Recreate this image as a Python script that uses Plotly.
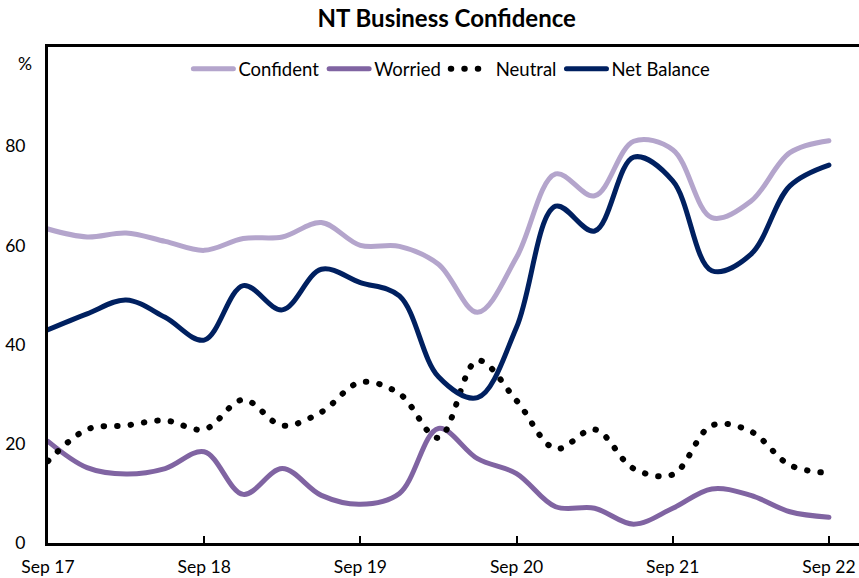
import plotly.graph_objects as go

quarters = ["Sep 17", "Dec 17", "Mar 18", "Jun 18", "Sep 18", "Dec 18", "Mar 19", "Jun 19",
            "Sep 19", "Dec 19", "Mar 20", "Jun 20", "Sep 20", "Dec 20", "Mar 21", "Jun 21",
            "Sep 21", "Dec 21", "Mar 22", "Jun 22", "Sep 22"]
confident = [63.3, 61.7, 62.5, 60.8, 59.0, 61.4, 61.7, 64.6, 60.0, 59.8, 56.2, 46.5, 57.6,
             74.4, 70.0, 81.0, 79.3, 65.6, 68.9, 78.7, 81.1]
worried = [20.5, 15.2, 13.9, 15.0, 18.4, 9.8, 15.0, 9.6, 7.8, 10.0, 23.1, 17.0, 14.0,
           7.3, 7.0, 3.8, 7.0, 10.9, 9.6, 6.3, 5.2]
neutral = [16.5, 22.9, 23.7, 24.7, 22.9, 28.9, 23.7, 26.4, 32.4, 30.1, 21.2, 36.8, 28.7,
           19.0, 22.9, 15.0, 13.8, 23.7, 22.5, 15.7, 14.1]
net_balance = [43.0, 46.2, 49.0, 45.5, 40.9, 51.9, 47.0, 55.2, 52.5, 49.8, 33.5, 29.3, 43.5,
               67.9, 62.9, 77.8, 73.0, 54.9, 58.2, 72.0, 76.2]
tick_labels = ["Sep 17", "Sep 18", "Sep 19", "Sep 20", "Sep 21", "Sep 22"]

x = list(range(len(quarters)))
tick_pos = [quarters.index(t) for t in tick_labels]

FONT = "Lato, 'Open Sans', sans-serif"
FS = 17.5

fig = go.Figure()
fig.add_trace(go.Scatter(x=x, y=confident, name="Confident", mode="lines",
                         line=dict(color="#B4A5CC", width=5, shape="spline", smoothing=1.0)))
fig.add_trace(go.Scatter(x=x, y=worried, name="Worried", mode="lines",
                         line=dict(color="#8064A2", width=5, shape="spline", smoothing=1.0)))
fig.add_trace(go.Scatter(x=x, y=neutral, name="Neutral", mode="lines",
                         line=dict(color="#000000", width=6, shape="spline", smoothing=1.0,
                                   dash="0.5px,13px")))
fig.add_trace(go.Scatter(x=x, y=net_balance, name="Net Balance", mode="lines",
                         line=dict(color="#002060", width=5, shape="spline", smoothing=1.0)))

fig.update_layout(
    width=859, height=578,
    margin=dict(l=48, r=0, t=47, b=35),
    paper_bgcolor="white", plot_bgcolor="white",
    font=dict(family=FONT, size=FS, color="#000000"),
    title=dict(text="<b>NT Business Confidence</b>", x=0.52, xanchor="center",
               y=0.968, yanchor="middle", font=dict(family=FONT, size=24, color="#000000")),
    showlegend=True,
    legend=dict(orientation="h", x=0.498, xanchor="center", y=0.955, yanchor="middle",
                bgcolor="rgba(0,0,0,0)", font=dict(family=FONT, size=18.5),
                itemwidth=40, tracegroupgap=0),
    annotations=[dict(text="%", x=0, xref="paper", xanchor="right", xshift=-14,
                      y=(543 - 63) / 4.96, yref="y", yanchor="middle", showarrow=False,
                      font=dict(family=FONT, size=FS))],
)
fig.update_xaxes(range=[0, 20.77], tickvals=tick_pos, ticktext=tick_labels,
                 showgrid=False, zeroline=False, showline=True, linecolor="#000000",
                 linewidth=3, mirror=True, ticks="inside", ticklen=7, tickwidth=1.5,
                 tickcolor="#000000", ticklabelstandoff=6, tickfont=dict(family=FONT, size=FS))
fig.update_yaxes(range=[0, 100], tickvals=[0, 20, 40, 60, 80], showgrid=False,
                 zeroline=False, showline=True, linecolor="#000000", linewidth=3,
                 ticks="", ticklabelstandoff=16, tickfont=dict(family=FONT, size=FS))

post = """
var s = document.createElement('style');
s.innerHTML = 'html, body { margin: 0 !important; padding: 0 !important; overflow: hidden; } .js-line { stroke-linecap: round !important; }';
document.head.appendChild(s);
"""
fig.write_html("out.html", post_script=post, config={"displayModeBar": False})
